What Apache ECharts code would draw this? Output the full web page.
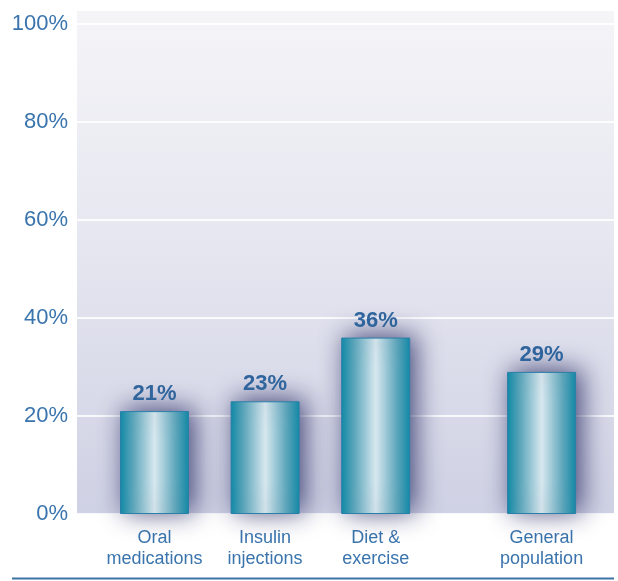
<!DOCTYPE html>
<html>
<head>
<meta charset="utf-8">
<script src="https://cdn.jsdelivr.net/npm/echarts@6/dist/echarts.min.js"></script>
<style>
  html, body { margin: 0; padding: 0; background: #ffffff; }
  #chart { width: 618px; height: 581px; }
</style>
</head>
<body>
<div id="chart"></div>
<script>
// Category slots: empty strings keep the wider gap before the last group
const categories = ['Oral\nmedications', '', 'Insulin\ninjections', '', 'Diet &\nexercise', '', '', 'General\npopulation'];
const values = [21, null, 23, null, 36, null, null, 29];
const yTicks = [0, 20, 40, 60, 80, 100];

const chart = echarts.init(document.getElementById('chart'));

const blueText = '#3a74ad';
const barFill = new echarts.graphic.LinearGradient(0, 0, 1, 0, [
  { offset: 0, color: '#0f8ca8' },
  { offset: 0.18, color: '#5aa8bc' },
  { offset: 0.5, color: '#d8e8ef' },
  { offset: 0.82, color: '#5aa6bb' },
  { offset: 1, color: '#118ca8' }
]);

chart.setOption({
  animation: false,
  graphic: {
    elements: [
      {
        type: 'rect',
        z: -10,
        silent: true,
        shape: { x: 77, y: 11, width: 537, height: 503 },
        style: {
          fill: new echarts.graphic.LinearGradient(0, 0, 0, 1, [
            { offset: 0, color: '#f5f5f8' },
            { offset: 0.45, color: '#e6e7f0' },
            { offset: 1, color: '#cfd1e4' }
          ])
        }
      },
      {
        type: 'line',
        silent: true,
        shape: { x1: 12, y1: 578.5, x2: 614, y2: 578.5 },
        style: { stroke: '#3d72a6', lineWidth: 2 }
      }
    ]
  },
  grid: [
    { left: 77, right: 4, top: 24, bottom: 67, containLabel: false },
    { left: 126.85, right: 48.75, top: 24, bottom: 67, containLabel: false }
  ],
  xAxis: [
    { type: 'category', gridIndex: 0, data: [''], show: false },
    {
      type: 'category',
      gridIndex: 1,
      data: categories,
      axisLine: { show: false },
      axisTick: { show: false },
      axisLabel: {
        interval: 0,
        margin: 14,
        color: blueText,
        fontFamily: 'Liberation Sans, Arial, sans-serif',
        fontSize: 18,
        lineHeight: 21
      }
    }
  ],
  yAxis: [
    {
      type: 'value',
      gridIndex: 0,
      min: yTicks[0],
      max: yTicks[yTicks.length - 1],
      interval: 20,
      axisLine: { show: false },
      axisTick: { show: false },
      axisLabel: {
        formatter: '{value}%',
        margin: 9,
        color: blueText,
        fontFamily: 'Liberation Sans, Arial, sans-serif',
        fontSize: 22
      },
      splitLine: { lineStyle: { color: 'rgba(255,255,255,0.85)', width: 2 } }
    },
    {
      type: 'value',
      gridIndex: 1,
      min: yTicks[0],
      max: yTicks[yTicks.length - 1],
      interval: 20,
      show: false
    }
  ],
  series: [
    {
      type: 'bar',
      xAxisIndex: 1,
      yAxisIndex: 1,
      data: values,
      barWidth: 69,
      clip: false,
      itemStyle: {
        color: barFill,
        borderColor: '#2a7fa8',
        borderWidth: 1,
        shadowColor: 'rgba(60, 62, 115, 0.95)',
        shadowBlur: 26,
        shadowOffsetX: 5,
        shadowOffsetY: -2
      },
      label: {
        show: true,
        position: 'top',
        distance: 6,
        formatter: '{c}%',
        color: '#2f659c',
        fontWeight: 'bold',
        fontFamily: 'Liberation Sans, Arial, sans-serif',
        fontSize: 22
      }
    }
  ]
});
</script>
</body>
</html>
